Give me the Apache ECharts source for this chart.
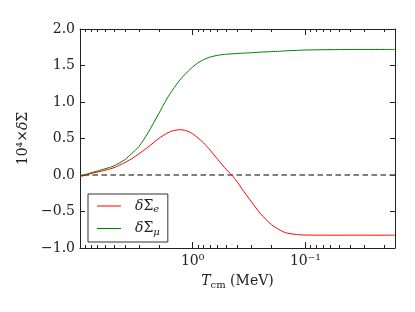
<!DOCTYPE html>
<html><head><meta charset="utf-8">
<script src="https://cdn.jsdelivr.net/npm/echarts@6/dist/echarts.min.js"></script>
<style>html,body{margin:0;padding:0;background:#fff}#c{width:415px;height:312px}</style>
</head><body><div id="c"></div>
<script>
// Temperature grid T_cm (MeV)
const T = [10, 9, 8, 7, 6, 5, 4, 3.5, 3, 2.5, 2, 1.7, 1.5, 1.3, 1.15, 1.0, 0.9, 0.8, 0.7, 0.6, 0.5, 0.45, 0.4, 0.35, 0.3, 0.25, 0.2, 0.17, 0.15, 0.12, 0.1, 0.07, 0.05, 0.03, 0.02, 0.016];
// 10^4 x deltaSigma_e
const sigmaE = [-0.02, -0.005, 0.02, 0.04, 0.065, 0.10, 0.17, 0.22, 0.29, 0.38, 0.50, 0.57, 0.605, 0.62, 0.61, 0.565, 0.51, 0.44, 0.34, 0.215, 0.07, 0.0, -0.10, -0.23, -0.37, -0.53, -0.68, -0.75, -0.79, -0.815, -0.822, -0.824, -0.824, -0.824, -0.824, -0.824];
// 10^4 x deltaSigma_mu
const sigmaMu = [-0.005, 0.005, 0.03, 0.055, 0.085, 0.125, 0.21, 0.29, 0.39, 0.575, 0.84, 1.04, 1.17, 1.30, 1.39, 1.48, 1.535, 1.58, 1.615, 1.64, 1.655, 1.66, 1.665, 1.67, 1.675, 1.683, 1.69, 1.695, 1.70, 1.707, 1.712, 1.716, 1.718, 1.72, 1.72, 1.72];
const seriesNames = ['dSe', 'dSmu'];
const xMajorTicks = [1, 0.1];
const xMinorTicks = [9, 8, 7, 6, 5, 4, 3, 2, 0.9, 0.8, 0.7, 0.6, 0.5, 0.4, 0.3, 0.2, 0.09, 0.08, 0.07, 0.06, 0.05, 0.04, 0.03, 0.02];
const xRange = [0.016, 10];
const yRange = [-1.0, 2.0];

const FONT = 'DejaVu Serif';
const INK = '#222';
const chart = echarts.init(document.getElementById('c'), null, {renderer: 'canvas'});

function xAxisDef(pos, ticks, len, showLine, showLabel) {
  return {
    type: 'log', logBase: 10, position: pos, min: xRange[0], max: xRange[1], inverse: true,
    axisLine: {show: showLine, onZero: false, lineStyle: {color: INK, width: 1}},
    axisTick: {show: true, inside: true, length: len, customValues: ticks, lineStyle: {color: INK, width: 1}},
    axisLabel: showLabel ? {
      show: true, customValues: xMajorTicks, margin: 6,
      fontFamily: FONT, fontSize: 14, color: INK,
      formatter: v => { const e = Math.round(Math.log10(v)); return e === 0 ? '10⁰' : '10⁻¹'; }
    } : {show: false},
    minorTick: {show: false}, splitLine: {show: false}
  };
}

const xAxes = [
  Object.assign(xAxisDef('bottom', xMajorTicks, 6, true, true), {
    name: '{i|T}{sub|cm} (MeV)', nameLocation: 'middle', nameGap: 24,
    nameTextStyle: {fontFamily: FONT, fontSize: 14, color: INK,
      rich: {i: {fontFamily: FONT, fontSize: 14, fontStyle: 'italic', color: INK},
             sub: {fontFamily: FONT, fontSize: 10, color: INK, verticalAlign: 'bottom', padding: [8, 0, 0, 0]}}}
  }),
  xAxisDef('bottom', xMinorTicks, 3, false, false),
  xAxisDef('top', xMajorTicks, 6, true, false),
  xAxisDef('top', xMinorTicks, 3, false, false)
];

function yAxisDef(pos, showLabel) {
  return {
    type: 'value', position: pos, min: yRange[0], max: yRange[1], interval: 0.5,
    axisLine: {show: true, onZero: false, lineStyle: {color: INK, width: 1}},
    axisTick: {show: true, inside: true, length: 5, lineStyle: {color: INK}},
    axisLabel: showLabel ? {show: true, margin: 5, fontFamily: FONT, fontSize: 14, color: INK,
      formatter: v => v.toFixed(1).replace('-', '\u2212')} : {show: false},
    splitLine: {show: false}
  };
}
const yAxes = [
  Object.assign(yAxisDef('left', true), {
    name: '10⁴×{i|δ}Σ', nameLocation: 'middle', nameGap: 34, nameRotate: 90,
    nameTextStyle: {fontFamily: FONT, fontSize: 14, color: INK,
      rich: {i: {fontFamily: FONT, fontSize: 14, fontStyle: 'italic', color: INK}}}
  }),
  yAxisDef('right', false)
];

const legendRich = {
  i: {fontFamily: FONT, fontSize: 14, fontStyle: 'italic', color: INK},
  n: {fontFamily: FONT, fontSize: 14, color: INK},
  sub: {fontFamily: FONT, fontSize: 10, fontStyle: 'italic', color: INK, verticalAlign: 'bottom', padding: [7, 0, 0, 0]}
};

chart.setOption({
  animation: false,
  backgroundColor: '#fff',
  grid: {left: 80, right: 20, top: 29, bottom: 64, containLabel: false, outerBoundsMode: 'none'},
  xAxis: xAxes,
  yAxis: yAxes,
  legend: {
    left: 88, top: 194, orient: 'vertical',
    data: seriesNames,
    icon: 'path://M0,0L0.01,0ZM0,6.4L24,6.4L24,7.6L0,7.6ZM0,14L0.01,14Z',
    itemWidth: 24, itemHeight: 14, itemGap: 7,
    padding: [5, 8, 5, 9],
    borderColor: '#333', borderWidth: 1, borderRadius: 0,
    textStyle: {padding: [0, 0, 0, 9], rich: legendRich},
    formatter: n => n === 'dSe' ? '{i|δ}{n|Σ}{sub|e}' : '{i|δ}{n|Σ}{sub|μ}'
  },
  series: [
    {
      name: seriesNames[0], type: 'line', xAxisIndex: 0, yAxisIndex: 0, z: 3,
      data: T.map((t, i) => [t, sigmaE[i]]),
      showSymbol: false, symbol: 'none', smooth: 0.25,
      lineStyle: {color: '#ff0000', width: 1}, itemStyle: {color: '#ff0000'},
      markLine: {silent: true, symbol: ['none', 'none'], label: {show: false}, z: 2,
        lineStyle: {type: [5.5, 3.5], color: '#555', width: 1.5},
        data: [{yAxis: 0}]}
    },
    {
      name: seriesNames[1], type: 'line', xAxisIndex: 0, yAxisIndex: 0, z: 3,
      data: T.map((t, i) => [t, sigmaMu[i]]),
      showSymbol: false, symbol: 'none', smooth: 0.25,
      lineStyle: {color: '#008000', width: 1}, itemStyle: {color: '#008000'}
    }
  ]
});
</script></body></html>
